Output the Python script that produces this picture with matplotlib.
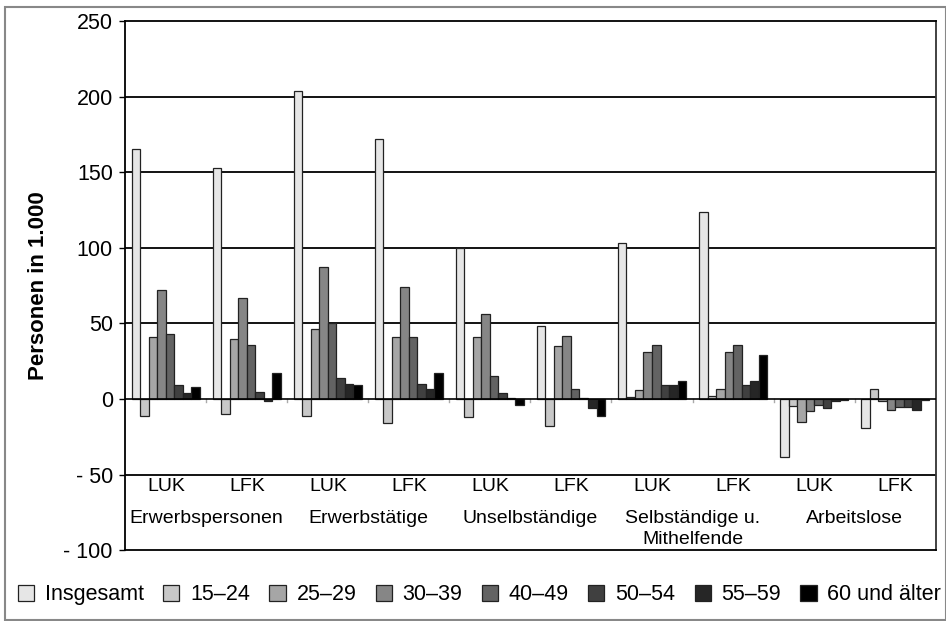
# Visualization
import matplotlib.pyplot as plt
from matplotlib.patches import Rectangle

# Numerical operations
import numpy as np

plt.rcParams['font.family'] = ['Liberation Sans', 'DejaVu Sans']

# Chart data (Personen in 1.000)
groups = ['LUK', 'LFK', 'LUK', 'LFK', 'LUK', 'LFK', 'LUK', 'LFK', 'LUK', 'LFK']
categories = ['Erwerbspersonen', 'Erwerbstätige', 'Unselbständige',
              'Selbständige u.\nMithelfende', 'Arbeitslose']
series = ['Insgesamt', '15–24', '25–29', '30–39', '40–49', '50–54', '55–59', '60 und älter']

insgesamt = [165, 153, 204, 172, 100, 48, 103, 124, -38, -19]
age_15_24 = [-11, -10, -11, -16, -12, -18, 1.5, 2, -4.5, 6.7]
age_25_29 = [41, 40, 46, 41, 41, 35, 6, 6.5, -15, -1]
age_30_39 = [72, 67, 87, 74, 56, 42, 31, 31, -8, -7]
age_40_49 = [43, 36, 50, 41, 15, 6.5, 35.5, 35.5, -4, -5]
age_50_54 = [9.5, 4.5, 14, 10, 4, 0.5, 9, 9, -6, -5]
age_55_59 = [4, -1, 10, 6.5, 0.7, -6, 9, 12, -1, -7]
age_60_plus = [8, 17, 9, 17.5, -4, -11, 12, 29, -0.4, -0.5]

values = [insgesamt, age_15_24, age_25_29, age_30_39,
          age_40_49, age_50_54, age_55_59, age_60_plus]
colors = ['#e6e6e6', '#c8c8c8', '#a6a6a6', '#868686',
          '#636363', '#404040', '#262626', '#000000']

fig = plt.figure(figsize=(9.46, 6.21), dpi=100)
ax = fig.add_axes([0.1325, 0.1138, 0.8565, 0.8525])

# Grouped bars
x = np.arange(len(groups))
width = 0.105
for i, (name, vals, col) in enumerate(zip(series, values, colors)):
    offset = (i - (len(series) - 1) / 2) * width
    ax.bar(x + 0.5 + offset, vals, width, color=col, edgecolor='#222222',
           linewidth=0.9, label=name, zorder=3)

# Gridlines and zero line
for yv in [-50, 50, 100, 150, 200]:
    ax.axhline(yv, color='black', linewidth=1.3, zorder=1)
ax.axhline(0, color='black', linewidth=1.2, zorder=4)

# Small ticks between groups
for xv in range(1, len(groups)):
    ax.plot([xv, xv], [0, -2], color='#aaaaaa', linewidth=1, zorder=2)

ax.set_xlim(0, len(groups))
ax.set_ylim(-100, 250)
ax.set_xticks([])
ax.set_yticks([-100, -50, 0, 50, 100, 150, 200, 250])
ax.set_yticklabels(['- 100', '- 50', '0', '50', '100', '150', '200', '250'], fontsize=15.5)
ax.tick_params(axis='y', length=4, width=1, pad=5)
for side in ['top', 'right', 'bottom', 'left']:
    ax.spines[side].set_linewidth(1.3)
ax.spines['right'].set_color('#333333')

ax.set_ylabel('Personen in 1.000', fontsize=16, fontweight='bold')
ax.yaxis.set_label_coords(-0.094, 0.5)

# Group labels inside the plot area
for i, g in enumerate(groups):
    ax.text(i + 0.5, -58, g, ha='center', va='center', fontsize=14)
for j, c in enumerate(categories):
    lines = c.split('\n')
    for k, line in enumerate(lines):
        ax.text(2 * j + 1, -79 - k * 14, line, ha='center', va='center', fontsize=14)

# Legend
fig.legend(loc='center', bbox_to_anchor=(0.507, 0.042), ncol=8, frameon=False,
           fontsize=15.5, handlelength=0.75, handleheight=0.75, handletextpad=0.5,
           columnspacing=0.9)

# Outer frame
fig.patches.append(Rectangle((0.005, 0.002), 0.995, 0.987, transform=fig.transFigure,
                             fill=False, edgecolor='#888888', linewidth=1.5))

plt.savefig('out.png', dpi=100)
